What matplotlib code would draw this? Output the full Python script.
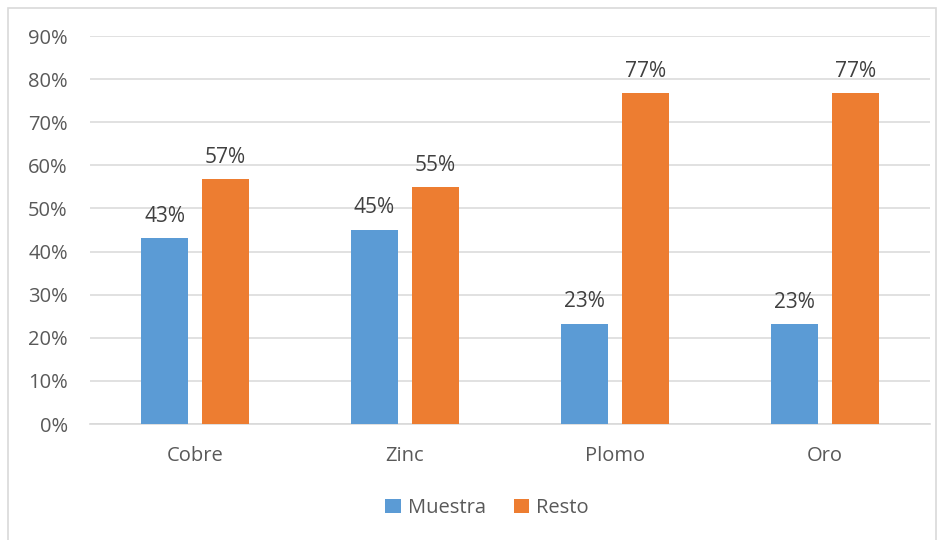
import matplotlib.pyplot as plt
import numpy as np
from matplotlib.patches import Rectangle

categories = ['Cobre', 'Zinc', 'Plomo', 'Oro']
muestra = [43.2, 45.1, 23.3, 23.2]
resto = [56.8, 54.9, 76.7, 76.8]
series_names = ['Muestra', 'Resto']

plt.rcParams['font.family'] = ['Open Sans', 'DejaVu Sans']
grey_text = '#595959'

fig = plt.figure(figsize=(9.45, 5.4), dpi=100)
# outer chart border
fig.patches.append(Rectangle((8.5 / 945, -0.05), 928 / 945, 1 - 7.5 / 540 + 0.05,
                             transform=fig.transFigure, fill=False,
                             edgecolor='#D9D9D9', linewidth=1.2))

ax = fig.add_axes([90 / 945, 1 - 424 / 540, 840 / 945, 388 / 540])

x = np.arange(len(categories)) + 0.5
w = 0.224
off = 0.145
b1 = ax.bar(x - off, muestra, w, color='#5B9BD5', label=series_names[0], zorder=3)
b2 = ax.bar(x + off, resto, w, color='#ED7D31', label=series_names[1], zorder=3)

for bars, vals in [(b1, muestra), (b2, resto)]:
    for r, v in zip(bars, vals):
        ax.text(r.get_x() + r.get_width() / 2, v + 2.6, f'{v:.0f}%',
                ha='center', va='bottom', fontsize=15, color='#404040')

ax.set_xlim(0, 4)
ax.set_ylim(0, 90)
ax.set_yticks(range(0, 91, 10))
ax.set_yticklabels([f'{t}%' for t in range(0, 91, 10)])
ax.set_xticks(x)
ax.set_xticklabels(categories)
ax.tick_params(axis='both', length=0, labelsize=14.5, colors=grey_text)
ax.tick_params(axis='y', pad=16)
ax.tick_params(axis='x', pad=16)
ax.grid(axis='y', color='#D9D9D9', linewidth=1.1, zorder=0)
for s in ['top', 'right', 'left']:
    ax.spines[s].set_visible(False)
ax.spines['bottom'].set_color('#D9D9D9')
ax.spines['bottom'].set_linewidth(1.2)

fig.legend(handles=[b1, b2], labels=series_names, loc='center',
           bbox_to_anchor=(487 / 945, 1 - 508 / 540), ncol=2, frameon=False,
           fontsize=14.5, labelcolor=grey_text, handlelength=0.75, handleheight=0.75,
           handletextpad=0.35, columnspacing=1.4)

fig.savefig('out.png', dpi=100)
